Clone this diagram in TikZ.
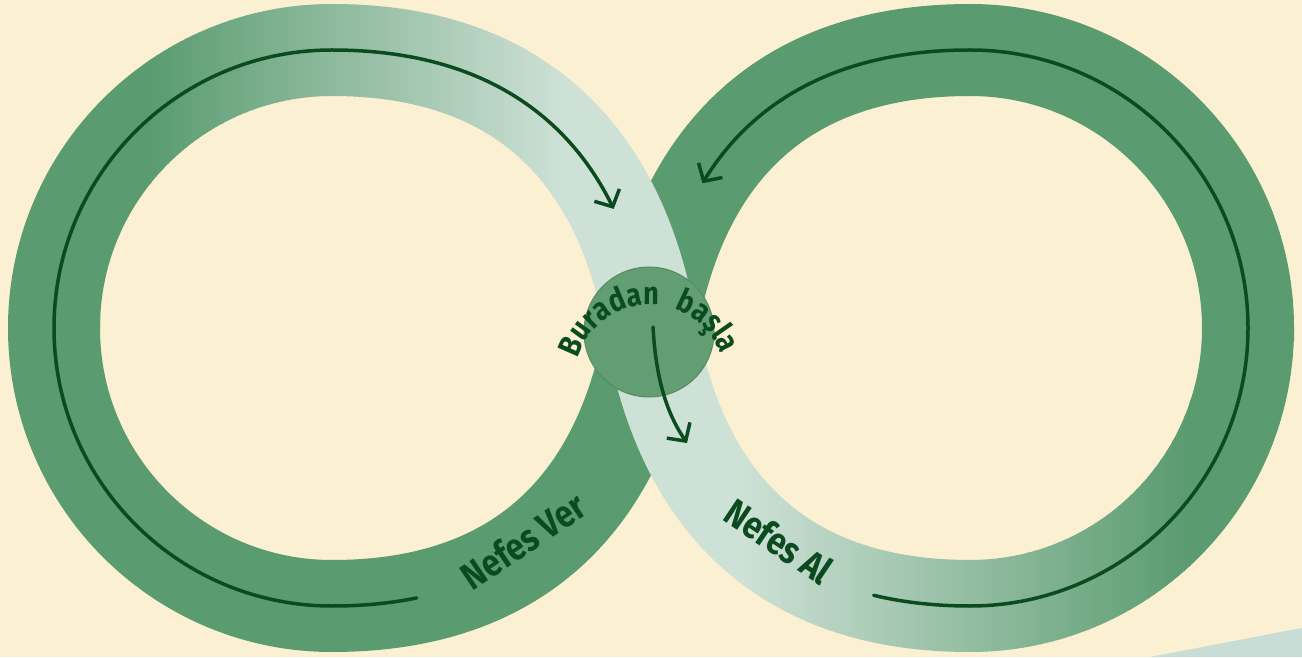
\documentclass[tikz,border=0pt]{standalone}
\usepackage{fontspec}
\setmainfont{Fira Sans}[FakeStretch=0.85]
\usetikzlibrary{arrows.meta,decorations.text}
\definecolor{bg}{RGB}{251,240,210}
\definecolor{bandg}{RGB}{90,155,112}
\definecolor{bandl}{RGB}{206,225,214}
\definecolor{ink}{RGB}{10,75,32}
\definecolor{dotg}{RGB}{99,158,115}
\definecolor{wedge}{RGB}{200,221,213}
\newcommand\gradstrip[3]{%
  \begin{scope}
    \clip (#1,-5) rectangle (#2,665);
    \draw[band, color=bandl!#3!bandg] (54,329) .. controls (54,482.5) and (178.5,607) .. (332,607)
      .. controls (572,607) and (631.9,437.3) .. (651,329)
      .. controls (670.1,220.7) and (730,51) .. (970,51)
      .. controls (1123.5,51) and (1248,175.5) .. (1248,329);
  \end{scope}}
\begin{document}
\begin{tikzpicture}[x=1pt,y=1pt,
  band/.style={line width=92pt},
  guide/.style={line width=3.5pt, draw=ink, line cap=round, -{Straight Barb[length=13pt,width=28pt]}},
  lbl/.style={text=ink, font=\bfseries\fontsize{38}{42}\selectfont, inner sep=0pt},
  arctext/.style={decorate, decoration={text along path, text align=center,
    text={|\color{ink}\bfseries\fontsize{32}{34}\selectfont|#1}}}]
\useasboundingbox (0,0) rectangle (1302,657);
\fill[bg] (0,0) rectangle (1302,657);
\fill[wedge] (1150,0) -- (1302,29) -- (1302,0) -- cycle;
% dark strand (underneath)
\draw[band, bandg] (1248,316) -- (1248,329) .. controls (1248,482.5) and (1123.5,607) .. (970,607)
  .. controls (730,607) and (670.1,437.3) .. (651,329)
  .. controls (631.9,220.7) and (572,51) .. (332,51)
  .. controls (178.5,51) and (54,175.5) .. (54,329) -- (54,342);
% gradient strand (on top)
\gradstrip{-5}{151}{0}
\foreach \k in {0,...,68} {%
  \pgfmathsetmacro\xa{150+6*\k}\pgfmathsetmacro\xb{\xa+7}\pgfmathsetmacro\p{100*(\k+0.5)/69}%
  \gradstrip{\xa}{\xb}{\p}}
\gradstrip{564}{741}{100}
\foreach \k in {0,...,74} {%
  \pgfmathsetmacro\xa{740+6*\k}\pgfmathsetmacro\xb{\xa+7}\pgfmathsetmacro\p{100-100*(\k+0.5)/75}%
  \gradstrip{\xa}{\xb}{\p}}
\gradstrip{1189}{1310}{0}
% guide lines
\coordinate (lstart) at (416.8,59.1);
\coordinate (lend) at (613.7,448.1);
\coordinate (rstart) at (873.6,61.7);
\coordinate (rend) at (702.4,473.7);
\draw[guide] (lstart) .. controls (391.4,53.8) and (363.2,51) .. (332,51)
  .. controls (178.5,51) and (54,175.5) .. (54,329)
  .. controls (54,482.5) and (178.5,607) .. (332,607)
  .. controls (492.8,607) and (572.8,530.8) .. (lend);
\draw[guide] (rstart) .. controls (902.1,54.9) and (934,51) .. (970,51)
  .. controls (1123.5,51) and (1248,175.5) .. (1248,329)
  .. controls (1248,482.5) and (1123.5,607) .. (970,607)
  .. controls (826,607) and (746.8,545.9) .. (rend);
% start circle
\node[circle, fill=dotg, draw=dotg!88!black, line width=1pt, minimum size=130pt, inner sep=0pt] (start) at (649,325) {};
\path[arctext=Buradan] (650,276) ++(173:76) arc[start angle=173, end angle=73, radius=76];
\path[arctext=başla] (650,276) ++(84:76) arc[start angle=84, end angle=8, radius=76];
\coordinate (cstart) at (653,330);
\coordinate (cend) at (687,214);
\draw[guide] (cstart) .. controls (656,275) and (668,242) .. (cend);
% labels
\node[lbl, rotate=34] (ver) at (523,116) {Nefes Ver};
\node[lbl, rotate=-34] (al) at (779,116) {Nefes Al};
\end{tikzpicture}
\end{document}
